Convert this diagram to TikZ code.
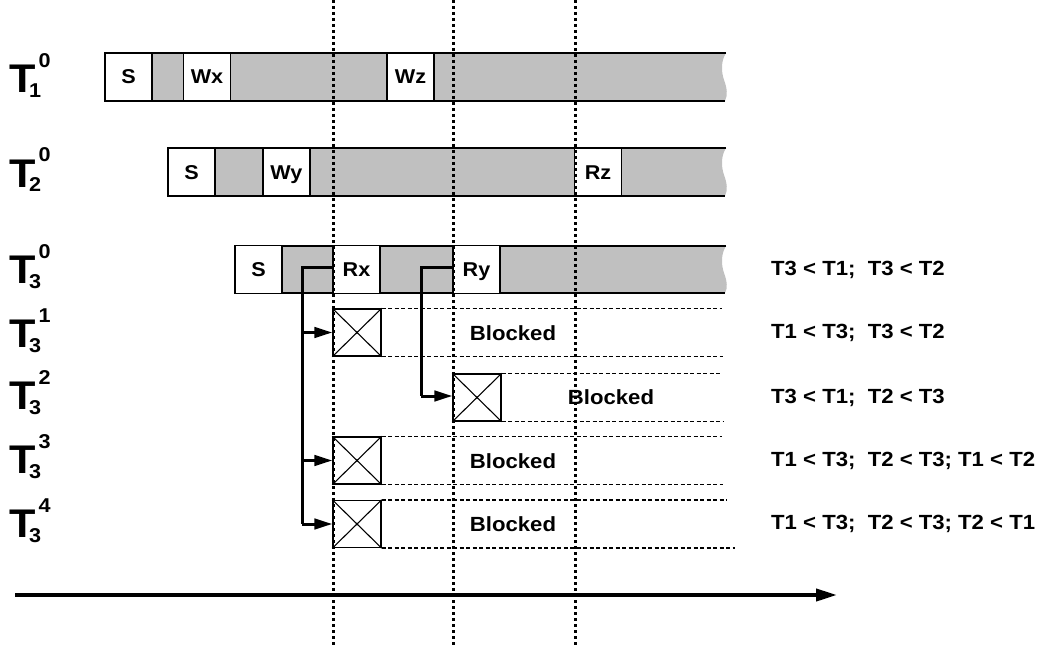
\documentclass[tikz,border=0pt]{standalone}
\usepackage{fontspec}
\setmainfont{Liberation Sans}[FakeStretch=1.08]
\usetikzlibrary{arrows.meta}
\definecolor{bandgray}{RGB}{192,192,192}
\newcommand{\grayband}[3]{%
  \fill[bandgray] (#1,#2) -- (726,#2) .. controls (721,#2+8) and (721,#2+18) .. (724,#2+27) .. controls (727,#2+35) and (728,#2+42) .. (725,#3) -- (#1,#3) -- cycle;
  \draw[bar] (726,#2) -- (#1,#2) -- (#1,#3) -- (725,#3);
}
\tikzset{
  bar/.style={line width=1.4pt},
  opbox/.style={draw, line width=1.4pt, fill=white, minimum width=47pt, minimum height=48pt, inner sep=0pt, text height=14pt, text depth=0pt, font=\fontsize{20}{20}\selectfont\bfseries},
  xbox/.style={draw, line width=1.3pt, fill=white, minimum width=48pt, minimum height=47pt, inner sep=0pt},
  rowline/.style={line width=1.5pt, dash pattern=on 4pt off 2.5pt},
  timeline/.style={line width=3pt, dash pattern=on 3pt off 3pt},
  conn/.style={line width=3pt},
  connarr/.style={conn, -{Triangle[length=18pt,width=10.5pt]}},
  axisline/.style={line width=4pt, -{Triangle[length=21pt,width=12pt]}},
  lbl/.style={font=\fontsize{20.5}{20.5}\selectfont\bfseries, inner sep=0pt},
  rlbl/.style={font=\fontsize{20.5}{20.5}\selectfont\bfseries, inner sep=0pt, anchor=west},
  bigT/.style={font=\fontsize{40}{40}\selectfont\bfseries, inner sep=0pt, anchor=base west},
  idx/.style={font=\fontsize{20}{20}\selectfont\bfseries, inner sep=0pt, anchor=base west},
}
\begin{document}
\begin{tikzpicture}[x=1pt,y=-1pt]
\useasboundingbox (0,0) rectangle (1042,650);

% transaction bands
\grayband{105}{53}{101}
\grayband{168}{148}{196}
\grayband{235}{246}{293}

% operation boxes
\node[opbox] (s1) at (128.5,77) {S};
\node[opbox] (wx) at (207,77) {Wx};
\node[opbox] (wz) at (410.5,77) {Wz};
\node[opbox] (s2) at (191.5,172) {S};
\node[opbox] (wy) at (286.5,172) {Wy};
\node[opbox] (rz) at (598,172) {Rz};
\node[opbox] (s3) at (258.5,269.5) {S};
\node[opbox] (rx) at (356.5,269.5) {Rx};
\node[opbox] (ry) at (476.5,269.5) {Ry};

% blocked boxes
\node[xbox] (x1) at (357,332.5) {};
\node[xbox] (x2) at (477,397.5) {};
\node[xbox] (x3) at (357,460.5) {};
\node[xbox] (x4) at (357,524) {};
\foreach \b in {x1,x2,x3,x4}{
  \draw[line width=1.1pt] (\b.north west) -- (\b.south east);
  \draw[line width=1.1pt] (\b.south west) -- (\b.north east);
}

% row dashed lines
\coordinate (e1) at (722,0);
\coordinate (e2) at (723,0);
\coordinate (e3) at (727,0);
\coordinate (e4) at (735,0);
\draw[rowline] (x1.north east) -- (x1.north east -| e1);
\draw[rowline] (x1.south east) -- (x1.south east -| e2);
\draw[rowline] (x2.north east) -- (x2.north east -| e1);
\draw[rowline] (x2.south east) -- (x2.south east -| e2);
\draw[rowline] (x3.north east) -- (x3.north east -| e1);
\draw[rowline] (x3.south east) -- (x3.south east -| e2);
\draw[rowline] (x4.north east) -- (x4.north east -| e3);
\draw[rowline] (x4.south east) -- (x4.south east -| e4);

% dotted time marks
\foreach \x in {333.5,453.5,575.5}{
  \draw[timeline] (\x,0) -- (\x,645);
}

% connectors
\coordinate (bx) at (302,0);
\coordinate (by) at (421,0);
\draw[conn] ([yshift=2.5pt]rx.west) -- ([yshift=2.5pt]rx.west -| bx) -- (x4.west -| bx);
\draw[connarr] (x1.west -| bx) -- (x1.west);
\draw[connarr] (x3.west -| bx) -- (x3.west);
\draw[connarr] (x4.west -| bx) -- (x4.west);
\draw[conn] ([yshift=2.5pt]ry.west) -- ([yshift=2.5pt]ry.west -| by) -- ([yshift=1.5pt]x2.west -| by);
\draw[connarr] ([yshift=1.5pt]x2.west -| by) -- ([yshift=1.5pt]x2.west);

% time axis
\coordinate (a0) at (15,595);
\coordinate (a1) at (837,595);
\draw[axisline] (a0) -- (a1);

% Blocked labels
\node[lbl] (bl1) at (513,333) {Blocked};
\node[lbl] (bl2) at (611,397) {Blocked};
\node[lbl] (bl3) at (513,461) {Blocked};
\node[lbl] (bl4) at (513,524) {Blocked};

% order constraints
\node[rlbl] (c0) at (771,270) {T3 < T1;\ \ T3 < T2};
\node[rlbl] (c1) at (771,333) {T1 < T3;\ \ T3 < T2};
\node[rlbl] (c2) at (771,398) {T3 < T1;\ \ T2 < T3};
\node[rlbl] (c3) at (771,461) {T1 < T3;\ \ T2 < T3; T1 < T2};
\node[rlbl] (c4) at (771,524) {T1 < T3;\ \ T2 < T3; T2 < T1};

% transaction labels
\foreach \n/\s/\p/\b in {a/1/0/93, b/2/0/187, c/3/0/283, d/3/1/347, e/3/2/409, f/3/3/473, g/3/4/537}{
  \node[bigT] (T\n) at (9,\b) {T};
  \node[idx] (T\n s) at (29,\b+5) {\s};
  \node[idx] (T\n p) at (38.5,\b-25) {\p};
}
\end{tikzpicture}
\end{document}
